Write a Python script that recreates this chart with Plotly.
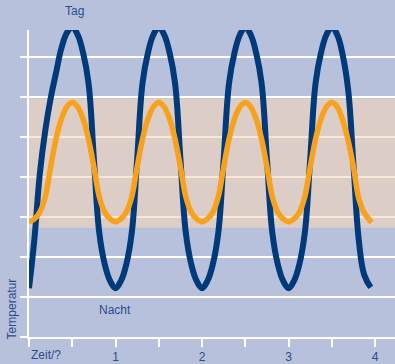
import plotly.graph_objects as go

# Blue curve, values every 1/16 unit of time
blue_x = [0.0, 0.0625, 0.125, 0.1875, 0.25, 0.3125, 0.375, 0.4375, 0.5,
          0.5625, 0.625, 0.6875, 0.75, 0.8125, 0.875, 0.9375, 1.0,
          1.0625, 1.125, 1.1875, 1.25, 1.3125, 1.375, 1.4375, 1.5,
          1.5625, 1.625, 1.6875, 1.75, 1.8125, 1.875, 1.9375, 2.0,
          2.0625, 2.125, 2.1875, 2.25, 2.3125, 2.375, 2.4375, 2.5,
          2.5625, 2.625, 2.6875, 2.75, 2.8125, 2.875, 2.9375, 3.0,
          3.0625, 3.125, 3.1875, 3.25, 3.3125, 3.375, 3.4375, 3.5,
          3.5625, 3.625, 3.6875, 3.75, 3.8125, 3.875, 3.95]
blue_y = [1.22, 2.45, 4.08, 5.15, 5.96, 6.6, 7.22, 7.6, 7.74,
          7.55, 7.1, 6.35, 4.45, 2.6, 1.82, 1.4, 1.22,
          1.4, 1.82, 2.6, 4.45, 6.35, 7.1, 7.55, 7.74,
          7.55, 7.1, 6.35, 4.45, 2.6, 1.82, 1.4, 1.22,
          1.4, 1.82, 2.6, 4.45, 6.35, 7.1, 7.55, 7.74,
          7.55, 7.1, 6.35, 4.45, 2.6, 1.82, 1.4, 1.22,
          1.4, 1.82, 2.6, 4.45, 6.35, 7.1, 7.55, 7.74,
          7.55, 7.05, 6.2, 4.3, 2.4, 1.55, 1.24]

# Orange curve, read the same way
orange_x = [0.0, 0.0625, 0.125, 0.1875, 0.25, 0.3125, 0.375, 0.4375, 0.5,
            0.5625, 0.625, 0.6875, 0.75, 0.8125, 0.875, 0.9375, 1.0,
            1.0625, 1.125, 1.1875, 1.25, 1.3125, 1.375, 1.4375, 1.5,
            1.5625, 1.625, 1.6875, 1.75, 1.8125, 1.875, 1.9375, 2.0,
            2.0625, 2.125, 2.1875, 2.25, 2.3125, 2.375, 2.4375, 2.5,
            2.5625, 2.625, 2.6875, 2.75, 2.8125, 2.875, 2.9375, 3.0,
            3.0625, 3.125, 3.1875, 3.25, 3.3125, 3.375, 3.4375, 3.5,
            3.5625, 3.625, 3.6875, 3.75, 3.8125, 3.875, 3.96]
orange_y = [2.88, 2.95, 3.12, 3.5, 4.25, 4.95, 5.45, 5.75, 5.86,
            5.75, 5.45, 4.95, 4.25, 3.5, 3.12, 2.95, 2.88,
            2.95, 3.12, 3.5, 4.25, 4.95, 5.45, 5.75, 5.86,
            5.75, 5.45, 4.95, 4.25, 3.5, 3.12, 2.95, 2.88,
            2.95, 3.12, 3.5, 4.25, 4.95, 5.45, 5.75, 5.86,
            5.75, 5.45, 4.95, 4.25, 3.5, 3.12, 2.95, 2.88,
            2.95, 3.12, 3.5, 4.25, 4.95, 5.45, 5.75, 5.86,
            5.75, 5.42, 4.92, 4.25, 3.45, 3.1, 2.86]

band_low, band_high = 2.73, 5.96

x_tickvals = [0, 0.5, 1, 1.5, 2, 2.5, 3, 3.5, 4]
x_ticktext = ["", "", "1", "", "2", "", "3", "", "4"]

TXT = "#2b4c8c"
FONT = "Liberation Sans, Arial, sans-serif"

fig = go.Figure()
fig.add_trace(go.Scatter(x=blue_x, y=blue_y, mode="lines",
                         line=dict(color="#003a7a", width=6, shape="spline", smoothing=1.15),
                         showlegend=False, hoverinfo="skip"))
fig.add_trace(go.Scatter(x=orange_x, y=orange_y, mode="lines",
                         line=dict(color="#f8a11c", width=5.5, shape="spline", smoothing=1.0),
                         showlegend=False, hoverinfo="skip"))

fig.add_shape(type="rect", xref="x", yref="y", x0=0, x1=4.3, y0=band_low, y1=band_high,
              fillcolor="rgba(246,214,182,0.58)", line=dict(width=0), layer="between")

fig.add_annotation(text="Tag", x=0.53, y=1.061, xref="x", yref="paper", showarrow=False,
                   xanchor="center", yanchor="middle",
                   font=dict(size=12, color=TXT, family=FONT))
fig.add_annotation(text="Nacht", x=0.994, y=0.67, xref="x", yref="y", showarrow=False,
                   xanchor="center", yanchor="middle",
                   font=dict(size=12, color=TXT, family=FONT))
fig.add_annotation(text="Temperatur", x=-0.0464, y=0.09, xref="paper", yref="paper",
                   xanchor="center", yanchor="middle",
                   showarrow=False, textangle=-90,
                   font=dict(size=12, color=TXT, family=FONT))
fig.add_annotation(text="Zeit/?", x=0, y=-0.058, xref="x", yref="paper", showarrow=False,
                   xanchor="left", yanchor="middle",
                   font=dict(size=12, color=TXT, family=FONT))

fig.update_layout(
    width=395, height=364,
    margin=dict(l=29, r=0, t=30, b=25),
    paper_bgcolor="#b8c1dc", plot_bgcolor="#b8c1dc",
    font=dict(family=FONT, size=12, color=TXT),
    xaxis=dict(range=[0, 4.23], tickvals=x_tickvals, ticktext=x_ticktext,
               showgrid=False, zeroline=False, showline=True, linecolor="white", linewidth=2,
               ticks="outside", ticklen=8, tickwidth=2, tickcolor="white",
               tickfont=dict(size=12, color=TXT, family=FONT), fixedrange=True),
    yaxis=dict(range=[0, 7.67], dtick=1, tick0=0, showticklabels=False,
               showgrid=True, gridcolor="white", gridwidth=2, zeroline=False,
               showline=True, linecolor="white", linewidth=2,
               ticks="outside", ticklen=7, tickwidth=2, tickcolor="white", fixedrange=True),
)

fig.write_html("out.html", config={"displayModeBar": False},
               post_script="document.body.style.margin='0';document.body.style.padding='0';document.body.style.overflow='hidden';")
